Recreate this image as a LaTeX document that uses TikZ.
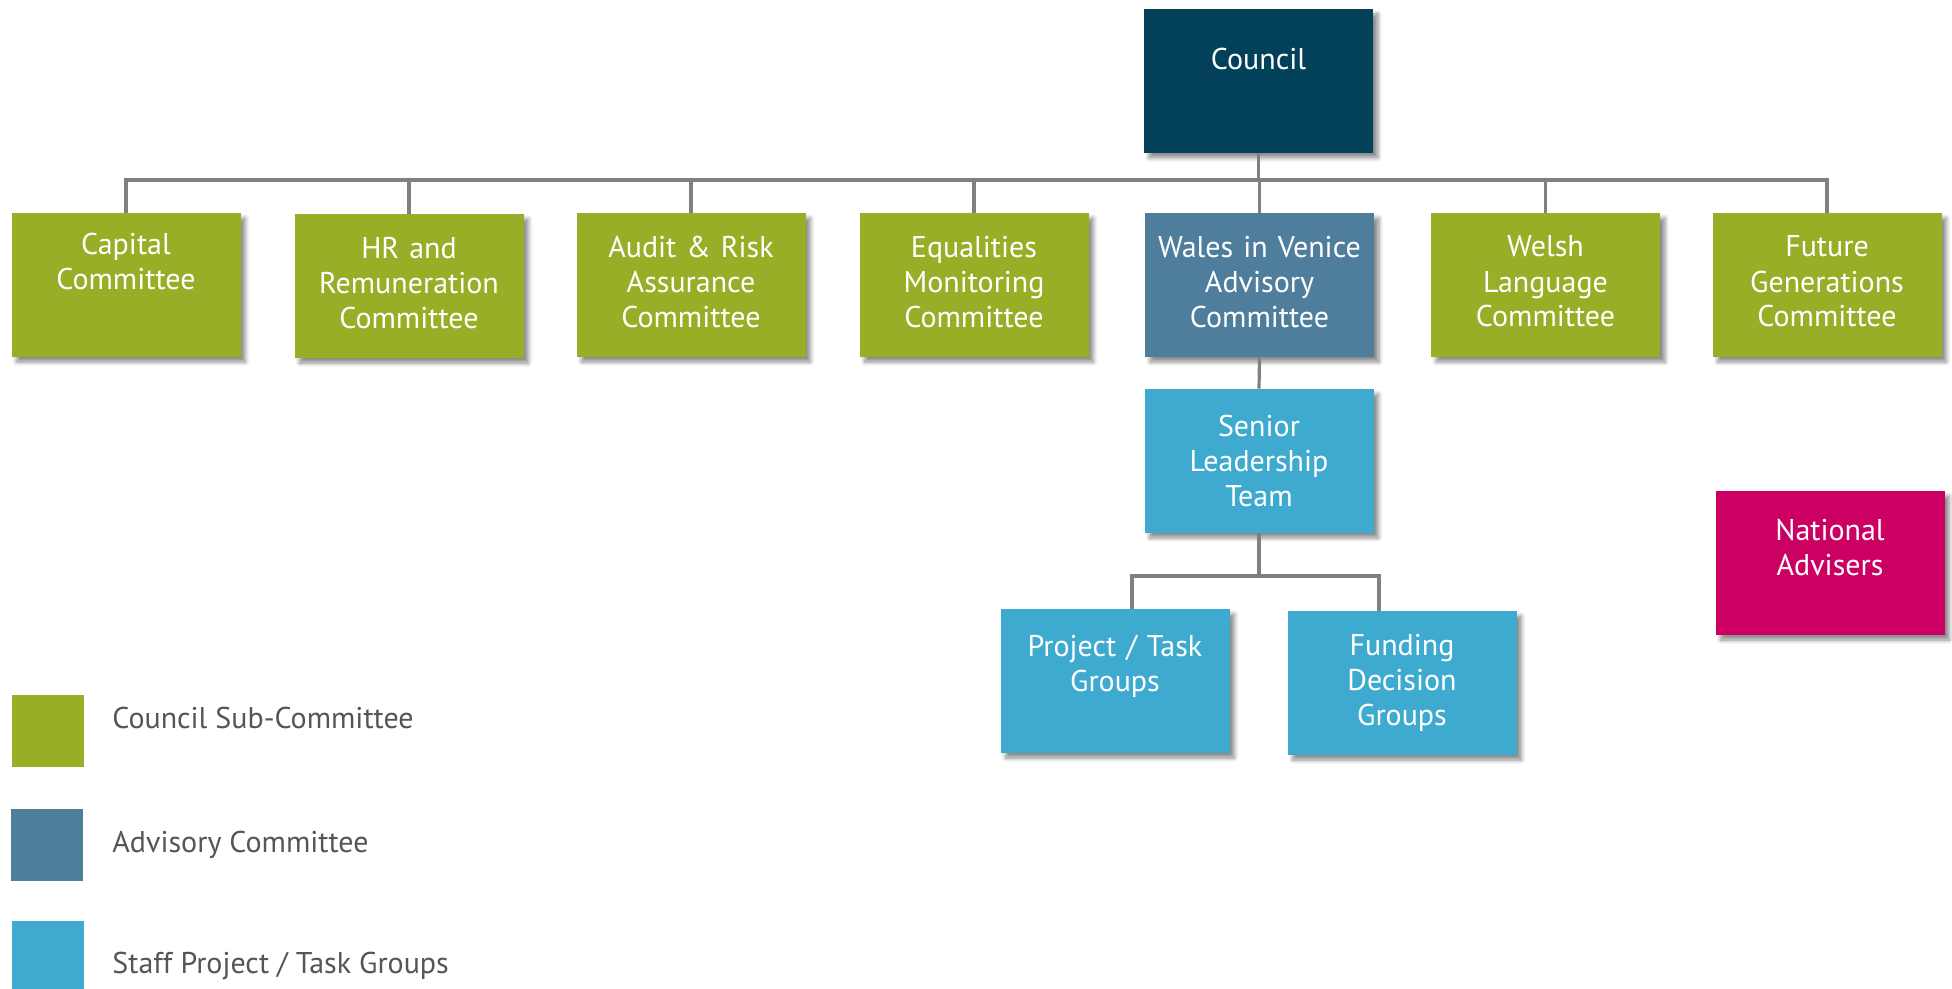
\documentclass[tikz,border=0pt]{standalone}
\usepackage{fontspec}
\setmainfont{PT Sans}
\usepackage{xcolor}
\usetikzlibrary{calc, shadows.blur}

\definecolor{councilblue}{HTML}{03415A}
\definecolor{subgreen}{HTML}{97AF26}
\definecolor{advblue}{HTML}{4F7E9C}
\definecolor{staffcyan}{HTML}{3FAAD0}
\definecolor{advmagenta}{HTML}{CC0062}
\definecolor{linegrey}{HTML}{808080}
\definecolor{keygrey}{HTML}{555555}

\tikzset{
  orgbox/.style={rectangle, minimum width=114.5pt, minimum height=72pt,
    text width=112pt, inner sep=0pt, align=center, text=white,
    font=\fontsize{15pt}{17.5pt}\selectfont,
    blur shadow={shadow xshift=2.5pt, shadow yshift=-2.5pt, shadow blur steps=6, shadow opacity=45}},
  conn/.style={draw=linegrey, line width=1.6pt},
  keybox/.style={rectangle, minimum size=36pt, inner sep=0pt},
  keytext/.style={anchor=base west, inner sep=0pt, text=keygrey,
    font=\fontsize{15pt}{17.5pt}\selectfont}
}

\begin{document}
\begin{tikzpicture}[x=0.5pt, y=-0.5pt]
\useasboundingbox (0,0) rectangle (1952,989);

\node[orgbox, fill=councilblue] (cncl) at (1258.5,81) {Council\\[5pt]~};

\node[orgbox, fill=subgreen] (cap) at (126,285) {Capital\\Committee\\[6pt]~};
\node[orgbox, fill=subgreen] (hrr) at (409,286) {HR and\\Remuneration\\Committee\\[-14pt]~};
\node[orgbox, fill=subgreen] (arc) at (691,285) {Audit \& Risk\\Assurance\\Committee\\[-14pt]~};
\node[orgbox, fill=subgreen] (eqm) at (974,285) {Equalities\\Monitoring\\Committee\\[-14pt]~};
\node[orgbox, fill=advblue] (wiv) at (1259.5,285) {Wales in Venice\\Advisory\\Committee\\[-14pt]~};
\node[orgbox, fill=subgreen] (wlc) at (1545.5,285) {Welsh\\Language\\Committee\\[-14pt]~};
\node[orgbox, fill=subgreen] (fgc) at (1827,285) {Future\\Generations\\Committee\\[-14pt]~};

\node[orgbox, fill=staffcyan] (slt) at (1259,461) {Senior\\Leadership\\Team};
\node[orgbox, fill=staffcyan] (ptg) at (1115,681) {Project / Task\\Groups\\~};
\node[orgbox, fill=staffcyan] (fdg) at (1402,683) {Funding\\Decision\\Groups};

\node[orgbox, fill=advmagenta] (nat) at (1830,563) {National\\Advisers\\[-2pt]~};

\coordinate (bus) at (0,180);
\coordinate (subbus) at (0,576);
\foreach \n in {cap,hrr,arc,eqm,wiv,wlc,fgc}
\draw[conn] (cncl.south) -- (cncl.south |- bus) -| (\n.north);
\draw[conn] (wiv.south) -- (slt.north);
\draw[conn] (slt.south) -- (slt.south |- subbus) -| ($(ptg.north)+(17,0)$);
\draw[conn] (slt.south) -- (slt.south |- subbus) -| ($(fdg.north)+(-23,0)$);

\node[keybox, fill=subgreen] (kcs) at (48,731) {};
\node[keybox, fill=advblue] (kac) at (47,845) {};
\node[keybox, fill=staffcyan] (ksp) at (48,957) {};
\node[keytext] (kcst) at (112,728) {Council Sub-Committee};
\node[keytext] (kact) at (112,852) {Advisory Committee};
\node[keytext] (kspt) at (112,973) {Staff Project / Task Groups};
\end{tikzpicture}
\end{document}
